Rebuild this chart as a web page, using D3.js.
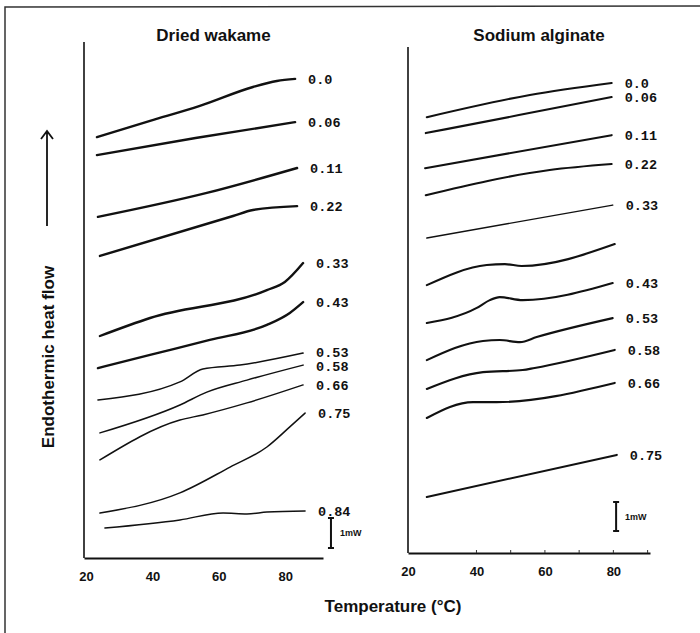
<!DOCTYPE html>
<html>
<head>
    <meta charset="utf-8">
    <title>DSC curves</title>
    <script type="text/javascript" src="https://cdn.jsdelivr.net/npm/d3@7"></script>
    <style>
        body { margin: 0; background: #fff; }
        text { fill: #111; }
    </style>
</head>
<body>
<script type="text/javascript">

    // water activity of each curve
    var wakameLabels = ["0.0", "0.06", "0.11", "0.22", "0.33", "0.43", "0.53", "0.58", "0.66", "0.75", "0.84"];
    var alginateLabels = ["0.0", "0.06", "0.11", "0.22", "0.33", "", "0.43", "0.53", "0.58", "0.66", "0.75"];

    // [temperature °C, heat flow mW above the x axis]
    var wakameCurves = [
        [[23.3, 14.03], [39.3, 14.57], [54.3, 15.07], [70.3, 15.7], [77.5, 15.9], [83, 15.97]],
        [[23.3, 13.43], [53, 14.0], [83, 14.53]],
        [[23.6, 11.37], [56.4, 12.17], [83.6, 13.0]],
        [[24.2, 10.07], [64.3, 11.4], [70.3, 11.6], [83.6, 11.73]],
        [[24.2, 7.4], [39.3, 8.0], [74.5, 8.93], [79.9, 9.2], [85.4, 9.83]],
        [[23.6, 6.33], [39.3, 6.77], [57.3, 7.27], [74.5, 7.77], [81.4, 8.17], [85.4, 8.53]],
        [[23.6, 5.27], [48.3, 5.87], [55.2, 6.3], [66.4, 6.43], [85.4, 6.83]],
        [[24.2, 4.17], [48.3, 5.1], [56.4, 5.53], [68.5, 5.93], [85.4, 6.43]],
        [[24.2, 3.27], [48.3, 4.6], [55.2, 4.77], [68.5, 5.17], [85.4, 5.77]],
        [[24.2, 1.5], [48.3, 2.17], [63.4, 3.03], [74.5, 3.7], [81.4, 4.37], [86, 4.83]],
        [[25.7, 1.0], [48.3, 1.27], [61.3, 1.5], [68.5, 1.47], [74.5, 1.53], [86, 1.57]]
    ];

    var alginateCurves = [
        [[25.5, 14.53], [55.6, 15.27], [79.5, 15.67]],
        [[25.2, 14.0], [52.4, 14.6], [79.5, 15.2]],
        [[25.0, 12.83], [79.5, 13.93]],
        [[25.2, 11.93], [61.4, 12.77], [79.5, 12.97]],
        [[25.5, 10.5], [79.8, 11.6]],
        [[25.5, 8.93], [43, 9.6], [48.3, 9.63], [53.2, 9.57], [80.4, 10.3]],
        [[25.5, 7.67], [40.1, 8.17], [43.9, 8.43], [46.8, 8.53], [53.5, 8.43], [79.8, 9.0]],
        [[25.5, 6.43], [41.9, 7.07], [46.8, 7.1], [52.7, 7.03], [57.6, 7.2], [79.8, 7.83]],
        [[25.5, 5.47], [41.9, 6.03], [53.5, 6.1], [57, 6.17], [80.4, 6.77]],
        [[25.5, 4.5], [39, 5.03], [45.9, 5.03], [80.4, 5.67]],
        [[25.5, 1.87], [81, 3.27]]
    ];

    var tempTicks = [20, 40, 60, 80];
    var minorTicks = [40, 50, 60, 70, 80, 90];

    var width = 700,
        height = 633,
        labelGap = 14;

    var svg = d3.select("body").append("svg")
        .attr("width", width)
        .attr("height", height);

    // frame of the scanned figure
    svg.append("path")
        .attr("d", "M5,633 L5,7 L700,6")
        .attr("fill", "none")
        .attr("stroke", "#333")
        .attr("stroke-width", 1.5);

    var left = {
        title: "Dried wakame",
        labels: wakameLabels,
        curves: wakameCurves,
        x: d3.scaleLinear().domain([19.4, 91.4]).range([84, 323]),
        y: d3.scaleLinear().domain([0, 17.2]).range([558, 42]),
        bar: [93.8, 0.33, 1.33],
        ticks: []
    };

    var right = {
        title: "Sodium alginate",
        labels: alginateLabels,
        curves: alginateCurves,
        x: d3.scaleLinear().domain([20, 90.7]).range([408, 650]),
        y: d3.scaleLinear().domain([0, 16.87]).range([553, 47]),
        bar: [80.8, 0.73, 1.7],
        ticks: minorTicks
    };

    drawPanel(left, function(i){ return i < 6 ? 2.4 : 1.5; });
    drawPanel(right, function(i){ return i == 4 ? 1.4 : 2.1; });

    // push apart labels whose curve ends sit too close together
    function labelPositions(curves, y){
        var ys = curves.map(function(d){ return y(d[d.length - 1][1]); });
        for (var i = 1; i < ys.length; i++){
            var gap = ys[i] - ys[i - 1];
            if (gap < labelGap){
                ys[i - 1] -= (labelGap - gap) / 2;
                ys[i] += (labelGap - gap) / 2;
            }
        }
        return ys;
    }

    function drawPanel(p, lineWidth){
        var x = p.x, y = p.y;
        var g = svg.append("g");
        var labelY = labelPositions(p.curves, y);

        var line = d3.line()
            .x(function(d){ return x(d[0]); })
            .y(function(d){ return y(d[1]); })
            .curve(d3.curveMonotoneX);

        // y axis: a bare vertical line
        g.append("line")
            .attr("x1", x.range()[0]).attr("x2", x.range()[0])
            .attr("y1", y.range()[0]).attr("y2", y.range()[1])
            .attr("stroke", "#111")
            .attr("stroke-width", 1.6);

        // x axis
        var xAxis = d3.axisBottom(x)
            .tickValues(tempTicks)
            .tickSize(0)
            .tickPadding(14)
            .tickFormat(d3.format("d"));

        var ax = g.append("g")
            .attr("transform", "translate(0," + y.range()[0] + ")")
            .call(xAxis);
        ax.select(".domain").attr("stroke", "#111").attr("stroke-width", 2);
        ax.selectAll(".tick text")
            .style("font-family", "Liberation Sans, Arial, sans-serif")
            .style("font-weight", "bold")
            .style("font-size", "13px")
            .attr("fill", "#111");

        // small upward ticks on the axis
        g.selectAll("line.minor")
            .data(p.ticks)
            .enter().append("line")
            .attr("class", "minor")
            .attr("x1", function(d){ return x(d); })
            .attr("x2", function(d){ return x(d); })
            .attr("y1", y.range()[0])
            .attr("y2", y.range()[0] - 3)
            .attr("stroke", "#333")
            .attr("stroke-width", 1);

        g.selectAll("path.curve")
            .data(p.curves)
            .enter().append("path")
            .attr("class", "curve")
            .attr("d", function(d){ return line(d); })
            .attr("fill", "none")
            .attr("stroke", "#111")
            .attr("stroke-linecap", "round")
            .attr("stroke-width", function(d, i){ return lineWidth(i); });

        g.selectAll("text.aw")
            .data(p.curves)
            .enter().append("text")
            .attr("class", "aw")
            .attr("x", function(d){ return x(d[d.length - 1][0]) + 13; })
            .attr("y", function(d, i){ return labelY[i]; })
            .attr("dy", "0.35em")
            .style("font-family", "Liberation Mono, DejaVu Sans Mono, monospace")
            .style("font-weight", "bold")
            .style("font-size", "13.5px")
            .text(function(d, i){ return p.labels[i]; });

        // panel title
        g.append("text")
            .attr("x", (x.range()[0] + x.range()[1]) / 2 + 10)
            .attr("y", 41)
            .attr("text-anchor", "middle")
            .style("font-family", "Liberation Sans, Arial, sans-serif")
            .style("font-weight", "bold")
            .style("font-size", "17px")
            .text(p.title);

        // 1 mW scale bar
        var bx = x(p.bar[0]), b0 = y(p.bar[1]), b1 = y(p.bar[2]);
        g.append("path")
            .attr("d", "M" + bx + "," + b0 + "V" + b1 +
                "M" + (bx - 3) + "," + b0 + "H" + (bx + 3) +
                "M" + (bx - 3) + "," + b1 + "H" + (bx + 3))
            .attr("fill", "none")
            .attr("stroke", "#111")
            .attr("stroke-width", 2);

        g.append("text")
            .attr("x", bx + 9)
            .attr("y", (b0 + b1) / 2)
            .attr("dy", "0.35em")
            .style("font-family", "Liberation Sans, Arial, sans-serif")
            .style("font-weight", "bold")
            .style("font-size", "9px")
            .text("1mW");
    }

    // shared axis titles
    svg.append("text")
        .attr("transform", "translate(54,357) rotate(-90)")
        .attr("text-anchor", "middle")
        .style("font-family", "Liberation Sans, Arial, sans-serif")
        .style("font-weight", "bold")
        .style("font-size", "17px")
        .text("Endothermic heat flow");

    svg.append("path")
        .attr("d", "M47,226 V131 M41,139 L47,131 L53,139")
        .attr("fill", "none")
        .attr("stroke", "#111")
        .attr("stroke-width", 1.8);

    svg.append("text")
        .attr("x", 393)
        .attr("y", 612)
        .attr("text-anchor", "middle")
        .style("font-family", "Liberation Sans, Arial, sans-serif")
        .style("font-weight", "bold")
        .style("font-size", "17px")
        .text("Temperature (°C)");

</script>
</body>
</html>
